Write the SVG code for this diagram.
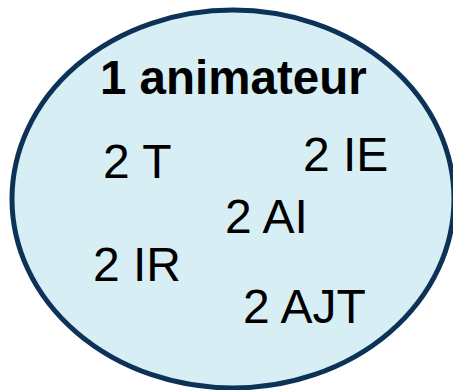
<svg xmlns="http://www.w3.org/2000/svg" width="453" height="390" viewBox="0 0 453 390">
<style>
.lbl{font-family:"Liberation Sans",Arial,sans-serif;font-size:48px;fill:#000}
.b{font-weight:bold;font-size:47.5px}
</style>
<rect width="453" height="390" fill="#fff"/>
<g id="ellipse">
<ellipse cx="233" cy="199" rx="221" ry="189" fill="#d7eef4" stroke="#0c3357" stroke-width="5"/>
</g>
<g id="title"><text class="lbl b" x="100" y="94">1 animateur</text></g>
<g id="t"><text class="lbl" x="103" y="178">2 T</text></g>
<g id="ie"><text class="lbl" x="303" y="171">2 IE</text></g>
<g id="ai"><text class="lbl" x="225" y="233">2 AI</text></g>
<g id="ir"><text class="lbl" x="93" y="281">2 IR</text></g>
<g id="ajt"><text class="lbl" x="243" y="323">2 AJT</text></g>
<g id="connectors"/>
</svg>
